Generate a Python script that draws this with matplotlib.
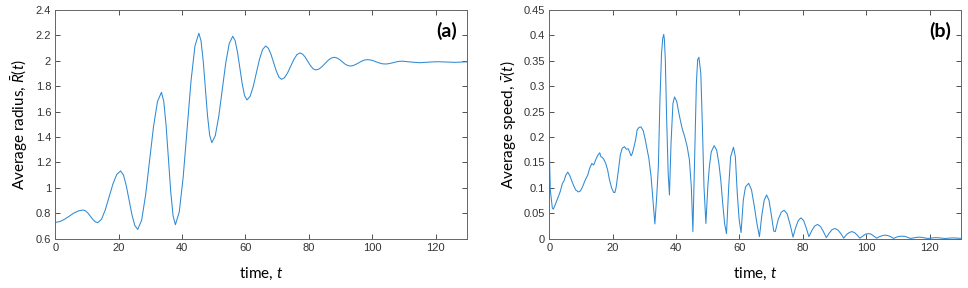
import numpy as np
import matplotlib
matplotlib.use("Agg")
import matplotlib.pyplot as plt
from matplotlib.ticker import FormatStrFormatter

plt.rcParams['font.family'] = ['Liberation Sans', 'DejaVu Sans']
plt.rcParams['mathtext.fontset'] = 'custom'
plt.rcParams['mathtext.rm'] = 'Lato'
plt.rcParams['mathtext.it'] = 'Lato:italic'

# panel (a): average radius
t_a = [0, 1.47, 2.93, 4.4, 5.87, 7.33,
       8.8, 9.57, 10.33, 11.1, 11.87, 12.63,
       13.4, 14.6, 15.8, 17.0, 18.2, 19.4,
       20.6, 21.5, 22.4, 23.3, 24.2, 25.1,
       26.0, 27.25, 28.5, 29.75, 31.0, 32.25,
       33.5, 34.23, 34.97, 35.7, 36.43, 37.17,
       37.9, 39.13, 40.37, 41.6, 42.83, 44.07,
       45.3, 45.98, 46.67, 47.35, 48.03, 48.72,
       49.4, 50.5, 51.6, 52.7, 53.8, 54.9,
       56.0, 56.75, 57.5, 58.25, 59.0, 59.75,
       60.5, 61.48, 62.47, 63.45, 64.43, 65.42,
       66.4, 67.23, 68.07, 68.9, 69.73, 70.57,
       71.4, 72.37, 73.33, 74.3, 75.27, 76.23,
       77.2, 78.03, 78.87, 79.7, 80.53, 81.37,
       82.2, 83.17, 84.13, 85.1, 86.07, 87.03,
       88.0, 88.83, 89.67, 90.5, 91.33, 92.17,
       93.0, 93.92, 94.83, 95.75, 96.67, 97.58,
       98.5, 99.42, 100.33, 101.25, 102.17, 103.08,
       104.0, 104.92, 105.83, 106.75, 107.67, 108.58,
       109.5, 112, 115, 118, 120.5, 123, 126, 128, 130]
R_a = [0.728, 0.735, 0.753, 0.777, 0.802, 0.819,
       0.826, 0.819, 0.801, 0.776, 0.751, 0.733,
       0.726, 0.753, 0.828, 0.930, 1.031, 1.106,
       1.133, 1.102, 1.018, 0.903, 0.788, 0.704,
       0.673, 0.745, 0.943, 1.213, 1.482, 1.680,
       1.752, 1.682, 1.492, 1.231, 0.971, 0.780,
       0.710, 0.811, 1.087, 1.464, 1.840, 2.116,
       2.217, 2.159, 2.002, 1.787, 1.571, 1.414,
       1.356, 1.412, 1.565, 1.775, 1.984, 2.137,
       2.193, 2.159, 2.068, 1.943, 1.817, 1.725,
       1.692, 1.720, 1.798, 1.905, 2.011, 2.089,
       2.117, 2.099, 2.051, 1.986, 1.920, 1.872,
       1.854, 1.868, 1.906, 1.958, 2.010, 2.048,
       2.062, 2.053, 2.029, 1.995, 1.962, 1.937,
       1.928, 1.935, 1.953, 1.978, 2.003, 2.021,
       2.028, 2.023, 2.011, 1.994, 1.976, 1.964,
       1.959, 1.962, 1.972, 1.984, 1.997, 2.006,
       2.009, 2.007, 2.001, 1.992, 1.984, 1.977,
       1.975, 1.976, 1.981, 1.986, 1.992, 1.996,
       1.997, 1.991, 1.985, 1.990, 1.993, 1.991, 1.988, 1.990, 1.992]

# panel (b): average speed
t_b = [0, 0.3, 0.95, 1.26, 1.8, 2.6, 3.4, 4.1, 4.7, 5.2, 5.8, 6.4, 7.0, 7.7, 8.3,
       9.2, 9.8, 10.4, 11.3, 12.1, 12.7, 13.4, 14.0, 14.6, 15.2, 15.9, 16.3, 16.7,
       17.1, 17.8, 18.4, 19.0, 19.7, 20.3, 20.7, 21.1, 21.8, 22.4, 23.0, 23.7, 24.3,
       24.9, 25.3, 25.8, 26.2, 26.6, 27.2, 27.7, 28.3, 28.9, 29.6, 30.2, 30.8, 31.4,
       32.1, 32.7, 33.3, 33.9, 34.4, 34.9, 35.4, 35.8, 36.1, 36.3, 36.6, 37.0, 37.5,
       37.9, 38.4, 39.0, 39.5, 40.2, 41.0, 41.9, 42.7, 43.5, 44.2, 44.8, 45.3, 45.9,
       46.4, 46.8, 47.2, 47.8, 48.3, 48.8, 49.4, 50.0, 50.5, 51.1, 52.0, 52.8, 53.5,
       54.1, 54.7, 55.3, 55.9, 56.6, 57.2, 58.1, 58.7, 59.3, 59.9, 60.5, 61.2, 61.9,
       62.9, 63.8, 64.7, 65.5, 66.3,
       67.05, 67.8, 68.55, 69.3, 70.05, 70.8, 71.3,
       72.23, 73.17, 74.1, 75.03, 75.97, 76.9,
       77.73, 78.57, 79.4, 80.23, 81.07, 81.9,
       82.82, 83.73, 84.65, 85.57, 86.48, 87.4,
       88.32, 89.23, 90.15, 91.07, 91.98, 92.9,
       93.75, 94.6, 95.45, 96.3, 97.15, 98.0,
       98.88, 99.77, 100.65, 101.53, 102.42, 103.3,
       104.18, 105.07, 105.95, 106.83, 107.72, 108.6,
       109.5, 110.4, 111.3, 112.2, 113.1, 114.0,
       115.8, 116.7, 117.6, 119.4, 121.2, 122.1, 123.0, 124.8,
       126.5, 127.4, 128.3, 130]
v_b = [0.175, 0.096, 0.060, 0.058, 0.066, 0.079, 0.092, 0.108, 0.115, 0.125, 0.131,
       0.125, 0.115, 0.104, 0.096, 0.092, 0.094, 0.101, 0.115, 0.125, 0.138, 0.148,
       0.145, 0.155, 0.163, 0.169, 0.161, 0.160, 0.157, 0.148, 0.135, 0.115, 0.099,
       0.091, 0.091, 0.102, 0.135, 0.165, 0.178, 0.181, 0.176, 0.177, 0.171, 0.163,
       0.168, 0.178, 0.194, 0.214, 0.219, 0.220, 0.213, 0.197, 0.178, 0.158, 0.122,
       0.076, 0.029, 0.085, 0.142, 0.273, 0.365, 0.395, 0.402, 0.392, 0.352, 0.240,
       0.129, 0.086, 0.188, 0.266, 0.279, 0.270, 0.243, 0.217, 0.201, 0.181, 0.155,
       0.102, 0.014, 0.174, 0.306, 0.352, 0.357, 0.325, 0.220, 0.102, 0.030, 0.102,
       0.142, 0.171, 0.183, 0.174, 0.148, 0.115, 0.070, 0.030, 0.010, 0.102, 0.161,
       0.180, 0.161, 0.089, 0.037, 0.012, 0.076, 0.102, 0.109, 0.096, 0.063, 0.030,
       0.004,
       0.046, 0.076, 0.086, 0.076, 0.047, 0.015, 0.014,
       0.038, 0.052, 0.056, 0.049, 0.028, 0.003,
       0.022, 0.036, 0.041, 0.036, 0.021, 0.004,
       0.016, 0.025, 0.028, 0.024, 0.014, 0.002,
       0.011, 0.018, 0.020, 0.017, 0.010, 0.001,
       0.008, 0.012, 0.014, 0.012, 0.007, 0.001,
       0.005, 0.009, 0.010, 0.009, 0.005, 0.001,
       0.004, 0.006, 0.007, 0.006, 0.004, 0.0005,
       0.003, 0.0045, 0.005, 0.0045, 0.0025, 0.0005,
       0.0025, 0.003, 0.0025, 0.0005, 0.0017, 0.002, 0.0017, 0.0004,
       0.0013, 0.0015, 0.0013, 0.0006]

a_yticks = [0.6, 0.8, 1.0, 1.2, 1.4, 1.6, 1.8, 2.0, 2.2, 2.4]
b_yticks = [0, 0.05, 0.1, 0.15, 0.2, 0.25, 0.3, 0.35, 0.4, 0.45]
x_ticks = [0, 20, 40, 60, 80, 100, 120]

line_col = '#2f8ad4'
tick_col = '#333333'
lab_font = ['Lato', 'DejaVu Sans']

fig = plt.figure(figsize=(9.68, 2.88), dpi=100)
ax1 = fig.add_axes([0.0571, 0.1712, 0.4256, 0.7941])
ax2 = fig.add_axes([0.5675, 0.1712, 0.4256, 0.7941])

panels = [(ax1, t_a, R_a, (0.6, 2.4), a_yticks, r'Average radius, $\bar{R}(t)$', '(a)'),
          (ax2, t_b, v_b, (0, 0.45), b_yticks, r'Average speed, $\bar{v}(t)$', '(b)')]

for ax, t, y, ylim, yt, ylab, tag in panels:
    ax.plot(t, y, color=line_col, lw=0.75)
    ax.set_xlim(0, 130)
    ax.set_ylim(*ylim)
    ax.set_xticks(x_ticks)
    ax.set_yticks(yt)
    ax.yaxis.set_major_formatter(FormatStrFormatter('%g'))
    ax.tick_params(direction='in', top=True, right=True, length=3.5, width=0.6,
                   labelsize=8, colors=tick_col, pad=3)
    for sp in ax.spines.values():
        sp.set_color('#666666')
        sp.set_linewidth(0.7)
    ax.set_xlabel(r'time, $t$', fontsize=11, family=lab_font, labelpad=9)
    ax.set_ylabel(ylab, fontsize=11, family=lab_font, labelpad=4)
    ax.text(0.975, 0.91, tag, transform=ax.transAxes, ha='right', va='center',
            fontsize=14, fontweight='bold', family=lab_font)

fig.savefig('out.png', dpi=100)
